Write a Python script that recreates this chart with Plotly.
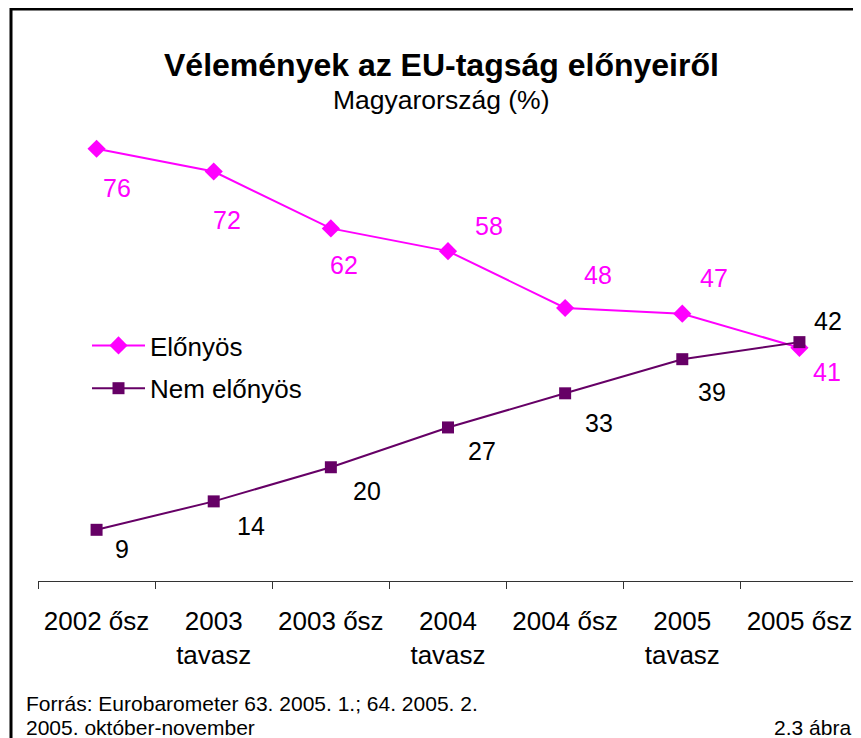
import plotly.graph_objects as go

categories = ["2002 ősz", "2003<br>tavasz", "2003 ősz", "2004<br>tavasz", "2004 ősz", "2005<br>tavasz", "2005 ősz"]
elonyos = [76, 72, 62, 58, 48, 47, 41]
nem_elonyos = [9, 14, 20, 27, 33, 39, 42]

# label pixel offsets (style)
el_dx = [20, 13, 13, 41, 33, 32, 28]
el_dy = [-39, -48, -37, 25, 33, 36, -24]
ne_dx = [25, 37, 36, 34, 34, 30, 29]
ne_dy = [-19, -25, -24, -24, -30, -33, 21]

OFF = 8  # page body margin
W, H = 861 - OFF, 738 - OFF
# plot area in page pixels: x 38..858, y 126..581
L, R = 38 - OFF, 861 - 858
T, B = 126 - OFF, 738 - 581
PW, PH = W - L - R, H - T - B
def px(x):
    return (x - OFF - L) / PW
def py(y):
    return (T + PH - (y - OFF)) / PH

FONT = "Arial, Liberation Sans, sans-serif"
MAG = "#FF00FF"
PUR = "#660066"

fig = go.Figure()
fig.add_trace(go.Scatter(x=categories, y=elonyos, mode="lines+markers", name="Előnyös", legendgroup="a",
                         line=dict(color=MAG, width=2),
                         marker=dict(symbol="diamond", size=14, color=MAG)))
fig.add_trace(go.Scatter(x=categories, y=nem_elonyos, mode="lines+markers", name="Nem előnyös", legendgroup="b",
                         line=dict(color=PUR, width=2),
                         marker=dict(symbol="square", size=12, color=PUR)))

ann = []
for i, v in enumerate(elonyos):
    ann.append(dict(x=categories[i], y=v, xref="x", yref="y", text=str(v), showarrow=False,
                    xshift=el_dx[i], yshift=el_dy[i], font=dict(family=FONT, size=25, color=MAG)))
for i, v in enumerate(nem_elonyos):
    ann.append(dict(x=categories[i], y=v, xref="x", yref="y", text=str(v), showarrow=False,
                    xshift=ne_dx[i], yshift=ne_dy[i], font=dict(family=FONT, size=25, color="black")))

ann.append(dict(x=px(441), y=py(65), xref="paper", yref="paper", showarrow=False,
                text="<b>Vélemények az EU-tagság előnyeiről</b>", xanchor="center", yanchor="middle",
                font=dict(family=FONT, size=32, color="black")))
ann.append(dict(x=px(441), y=py(100), xref="paper", yref="paper", showarrow=False,
                text="Magyarország (%)", xanchor="center", yanchor="middle",
                font=dict(family=FONT, size=26.5, color="black")))
ann.append(dict(x=px(24), y=py(703), xref="paper", yref="paper", showarrow=False,
                text="Forrás: Eurobarometer 63. 2005. 1.; 64. 2005. 2.", xanchor="left", yanchor="middle",
                font=dict(family=FONT, size=21, color="black")))
ann.append(dict(x=px(24), y=py(727), xref="paper", yref="paper", showarrow=False,
                text="2005. október-november", xanchor="left", yanchor="middle",
                font=dict(family=FONT, size=21, color="black")))
ann.append(dict(x=px(853), y=py(727), xref="paper", yref="paper", showarrow=False,
                text="2.3 ábra", xanchor="right", yanchor="middle",
                font=dict(family=FONT, size=21, color="black")))

fig.update_layout(
    width=W, height=H,
    margin=dict(l=L, r=R, t=T, b=B),
    paper_bgcolor="white", plot_bgcolor="white",
    showlegend=True,
    legend=dict(x=px(87), y=py(322), xanchor="left", yanchor="top",
                font=dict(family=FONT, size=26, color="black"),
                bgcolor="rgba(0,0,0,0)", itemwidth=53,
                traceorder="grouped", tracegroupgap=6),
    annotations=ann,
    shapes=[dict(type="rect", xref="paper", yref="paper",
                 x0=px(11), x1=px(880), y0=py(760), y1=py(9),
                 line=dict(color="black", width=3), layer="below")],
    xaxis=dict(type="category", range=[-0.5, 6.5], categoryorder="array", categoryarray=categories,
               tickson="boundaries", ticks="outside", ticklen=7, tickcolor="#333",
               showline=True, linecolor="#333", linewidth=1, showgrid=False, zeroline=False,
               ticklabelstandoff=17,
               tickfont=dict(family=FONT, size=26, color="black"), fixedrange=True),
    yaxis=dict(range=[0, 80], visible=False, showgrid=False, zeroline=False, fixedrange=True),
)

fig.write_html("out.html")
